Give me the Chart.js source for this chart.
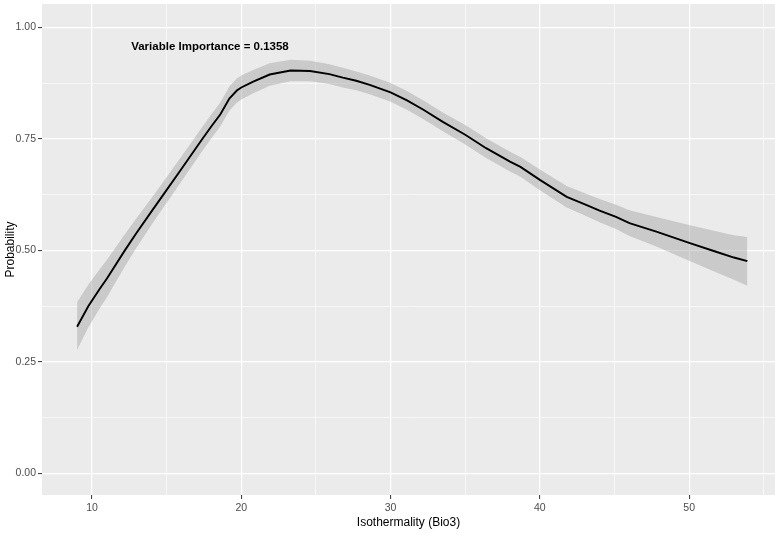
<!DOCTYPE html>
<html>
<head>
<meta charset="utf-8">
<script src="https://cdn.jsdelivr.net/npm/chart.js@4.4.1/dist/chart.umd.min.js"></script>
<style>
html,body{margin:0;padding:0;background:#ffffff;}
canvas{display:block;}
</style>
</head>
<body>
<canvas id="c" width="775" height="535"></canvas>
<script>
// ---- data ----
const xVals = [9.0, 9.75, 10.5, 11.0, 12.2, 13.0, 14.0, 14.78, 16.0, 17.4, 18.0, 18.6, 19.2, 19.7, 20.0, 20.8, 21.9, 23.3, 24.6, 25.9, 26.8, 27.7, 28.6, 30.0, 31.1, 32.2, 33.5, 35.0, 36.4, 38.0, 38.7, 40.0, 41.8, 43.1, 44.0, 45.1, 46.0, 47.8, 50.0, 51.8, 53.0, 53.9];
const fitVals = [0.329, 0.375, 0.413, 0.437, 0.500, 0.540, 0.588, 0.625, 0.683, 0.750, 0.778, 0.805, 0.840, 0.858, 0.865, 0.878, 0.894, 0.903, 0.902, 0.895, 0.887, 0.880, 0.871, 0.854, 0.836, 0.815, 0.788, 0.759, 0.729, 0.699, 0.687, 0.658, 0.620, 0.602, 0.589, 0.575, 0.561, 0.542, 0.517, 0.497, 0.484, 0.476];
const lowerVals = [0.277, 0.327, 0.369, 0.395, 0.464, 0.507, 0.558, 0.596, 0.655, 0.723, 0.751, 0.778, 0.813, 0.831, 0.838, 0.852, 0.869, 0.879, 0.879, 0.873, 0.865, 0.859, 0.850, 0.833, 0.815, 0.794, 0.767, 0.737, 0.707, 0.677, 0.665, 0.635, 0.596, 0.577, 0.563, 0.548, 0.532, 0.509, 0.477, 0.451, 0.434, 0.421];
const upperVals = [0.384, 0.423, 0.457, 0.479, 0.536, 0.573, 0.618, 0.654, 0.711, 0.777, 0.805, 0.832, 0.867, 0.885, 0.892, 0.904, 0.919, 0.927, 0.925, 0.917, 0.909, 0.901, 0.892, 0.875, 0.857, 0.836, 0.809, 0.781, 0.751, 0.721, 0.709, 0.681, 0.644, 0.627, 0.615, 0.602, 0.590, 0.575, 0.557, 0.543, 0.534, 0.530];
const xMajorTicks = [10, 20, 30, 40, 50];
const xMinorTicks = [15, 25, 35, 45, 55];
const yMajorTicks = [0, 0.25, 0.5, 0.75, 1.0];
const yMinorTicks = [0.125, 0.375, 0.625, 0.875];
const xTitle = 'Isothermality (Bio3)';
const yTitle = 'Probability';
const annotationText = 'Variable Importance = 0.1358';
const annotationPos = {x: 17.9, y: 0.957};

const pts = (ys) => xVals.map((x, i) => ({x: x, y: ys[i]}));
const isMajor = (list, v) => list.some(t => Math.abs(t - v) < 1e-9);

const panelBg = {
  id: 'panelBg',
  beforeDraw(chart) {
    const {ctx, chartArea: a} = chart;
    ctx.save();
    ctx.fillStyle = '#EBEBEB';
    ctx.fillRect(a.left, a.top, a.right - a.left, a.bottom - a.top);
    ctx.restore();
  }
};
const annot = {
  id: 'annot',
  afterDatasetsDraw(chart) {
    const {ctx, scales} = chart;
    ctx.save();
    ctx.font = 'bold 11.5px "Liberation Sans", Arial, sans-serif';
    ctx.fillStyle = '#000000';
    ctx.textAlign = 'center';
    ctx.textBaseline = 'middle';
    ctx.fillText(annotationText, scales.x.getPixelForValue(annotationPos.x), scales.y.getPixelForValue(annotationPos.y));
    ctx.restore();
  }
};

const tickFont = {family: '"Liberation Sans", Arial, sans-serif', size: 10.5};
const titleFont = {family: '"Liberation Sans", Arial, sans-serif', size: 12};

new Chart(document.getElementById('c'), {
  type: 'line',
  data: {
    datasets: [
      {label: 'upper', data: pts(upperVals), borderWidth: 0, pointRadius: 0, fill: '+1', backgroundColor: 'rgba(153,153,153,0.4)', order: 2},
      {label: 'lower', data: pts(lowerVals), borderWidth: 0, pointRadius: 0, fill: false, order: 3},
      {label: 'fit', data: pts(fitVals), borderColor: '#000000', borderWidth: 1.9, pointRadius: 0, fill: false, tension: 0, order: 0}
    ]
  },
  options: {
    responsive: false,
    animation: false,
    events: [],
    layout: {padding: {top: 4, left: 0, right: 0, bottom: 0}},
    plugins: {legend: {display: false}, tooltip: {enabled: false}},
    scales: {
      x: {
        type: 'linear', min: 6.65, max: 55.75,
        afterBuildTicks(s) { s.ticks = xMajorTicks.concat(xMinorTicks).sort((a,b)=>a-b).map(v => ({value: v})); },
        afterFit(s) { s.height = 40; s.paddingLeft = 0; s.paddingRight = 0; },
        border: {display: false},
        grid: {
          color: '#FFFFFF',
          lineWidth: (c) => isMajor(xMajorTicks, c.tick ? c.tick.value : NaN) ? 1.2 : 0.6,
          tickColor: (c) => isMajor(xMajorTicks, c.tick ? c.tick.value : NaN) ? '#333333' : 'rgba(0,0,0,0)',
          tickLength: 4, tickWidth: 1, drawTicks: true
        },
        ticks: {
          autoSkip: false, maxRotation: 0, padding: 3, color: '#4D4D4D', font: tickFont,
          callback: (v) => isMajor(xMajorTicks, v) ? String(v) : ''
        },
        title: {display: true, text: xTitle, color: '#000000', font: titleFont, padding: {top: 0, bottom: 5}}
      },
      y: {
        type: 'linear', min: -0.048, max: 1.052,
        afterBuildTicks(s) { s.ticks = yMajorTicks.concat(yMinorTicks).sort((a,b)=>a-b).map(v => ({value: v})); },
        afterFit(s) { s.width = 42; s.paddingTop = 0; s.paddingBottom = 0; },
        border: {display: false},
        grid: {
          color: '#FFFFFF',
          lineWidth: (c) => isMajor(yMajorTicks, c.tick ? c.tick.value : NaN) ? 1.2 : 0.6,
          tickColor: (c) => isMajor(yMajorTicks, c.tick ? c.tick.value : NaN) ? '#333333' : 'rgba(0,0,0,0)',
          tickLength: 4, tickWidth: 1, drawTicks: true
        },
        ticks: {
          autoSkip: false, padding: 2, color: '#4D4D4D', font: tickFont,
          callback: (v) => isMajor(yMajorTicks, v) ? Number(v).toFixed(2) : ''
        },
        title: {display: true, text: yTitle, color: '#000000', font: titleFont, padding: {top: 3, bottom: 0}}
      }
    }
  },
  plugins: [panelBg, annot]
});
</script>
</body>
</html>
